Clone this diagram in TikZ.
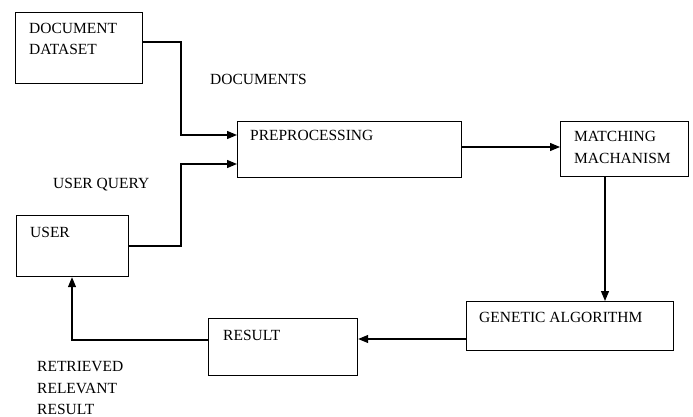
\documentclass[tikz,border=0pt]{standalone}
\usepackage{fontspec}
\setmainfont{Liberation Serif}
\usetikzlibrary{arrows.meta}
\begin{document}
\begin{tikzpicture}[x=1pt,y=-1pt,
  box/.style={draw,line width=1.2pt,rectangle,inner sep=0pt,anchor=north west},
  txt/.style={anchor=base west,inner sep=0pt,font=\fontsize{15.5}{21}\selectfont},
  conn/.style={line width=1.2pt,-{Triangle[length=10pt,width=8pt]}}]
\useasboundingbox (0,0) rectangle (693,417);
% boxes
\node[box,minimum width=127pt,minimum height=71pt] (dd) at (15,12) {};
\node[box,minimum width=224pt,minimum height=56pt] (pre) at (237,121) {};
\node[box,minimum width=128pt,minimum height=55pt] (mm) at (560,121) {};
\node[box,minimum width=207pt,minimum height=49pt] (ga) at (466,301) {};
\node[box,minimum width=149pt,minimum height=57pt] (res) at (208,318) {};
\node[box,minimum width=112pt,minimum height=61pt] (user) at (16,215) {};
% texts
\node[txt] (t1) at (29,34) {DOCUMENT};
\node[txt] (t2) at (29,55) {DATASET};
\node[txt] (t3) at (210,85) {DOCUMENTS};
\node[txt] (t4) at (250,141) {PREPROCESSING};
\node[txt] (t5) at (53,188) {USER QUERY};
\node[txt] (t6) at (30,237) {USER};
\node[txt] (t7) at (574,142) {MATCHING};
\node[txt] (t8) at (574,164) {MACHANISM};
\node[txt] (t9) at (479,322) {GENETIC ALGORITHM};
\node[txt] (t10) at (223,340) {RESULT};
\node[txt] (t11) at (37,371) {RETRIEVED};
\node[txt] (t12) at (37,393) {RELEVANT};
\node[txt] (t13) at (37,414) {RESULT};
% connectors
\coordinate (c1) at (181,42);
\coordinate (c2) at (181,135);
\coordinate (c3) at (181,246);
\coordinate (c4) at (181,164);
\draw[conn] (dd.east |- c1) -- (c1) -- (c2) -- (pre.west |- c2);
\draw[conn] (user.east |- c3) -- (c3) -- (c4) -- (pre.west |- c4);
\draw[conn] (pre.east |- 0,147) -- (mm.west |- 0,147);
\draw[conn] (mm.south -| 605,0) -- (ga.north -| 605,0);
\draw[conn] (ga.west |- 0,339) -- (res.east |- 0,339);
\coordinate (c5) at (72,340);
\draw[conn] (res.west |- c5) -- (c5) -- (user.south -| c5);
\end{tikzpicture}
\end{document}
